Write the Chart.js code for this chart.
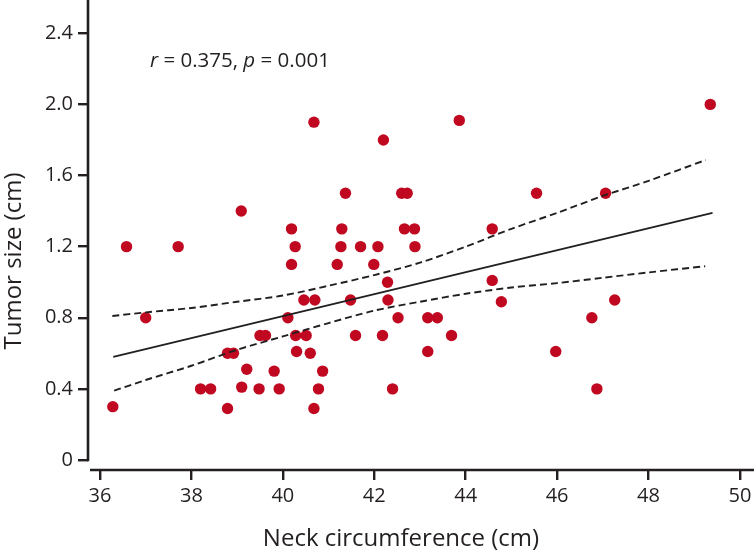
<!DOCTYPE html>
<html>
<head>
<meta charset="utf-8">
<script src="https://cdn.jsdelivr.net/npm/chart.js@4"></script>
<style>
  html, body { margin: 0; padding: 0; background: #fff; }
  #wrap { width: 754px; height: 554px; position: relative; }
</style>
</head>
<body>
<div id="wrap"><canvas id="c" width="754" height="554"></canvas></div>
<script>
// ---- data ----
const neckCm = [36.28, 36.58, 37.00, 37.71, 38.20, 38.42, 38.79, 38.92, 38.79, 39.09,
  39.10, 39.21, 39.48, 39.50, 39.62, 39.81, 39.92, 40.11, 40.19, 40.19,
  40.27, 40.28, 40.30, 40.46, 40.51, 40.60, 40.68, 40.68, 40.70, 40.78,
  40.87, 41.19, 41.27, 41.29, 41.37, 41.48, 41.59, 41.70, 41.99, 42.08,
  42.18, 42.20, 42.29, 42.30, 42.40, 42.52, 42.60, 42.66, 42.72, 42.88,
  42.89, 43.17, 43.17, 43.38, 43.69, 43.86, 44.58, 44.58, 44.78, 45.55,
  45.97, 46.76, 46.87, 47.06, 47.26, 49.35];
const tumorCm = [0.30, 1.20, 0.80, 1.20, 0.40, 0.40, 0.60, 0.60, 0.29, 1.40,
  0.41, 0.51, 0.40, 0.70, 0.70, 0.50, 0.40, 0.80, 1.30, 1.10,
  1.20, 0.70, 0.61, 0.90, 0.70, 0.60, 1.90, 0.29, 0.90, 0.40,
  0.50, 1.10, 1.20, 1.30, 1.50, 0.90, 0.70, 1.20, 1.10, 1.20,
  0.70, 1.80, 1.00, 0.90, 0.40, 0.80, 1.50, 1.30, 1.50, 1.30,
  1.20, 0.80, 0.61, 0.80, 0.70, 1.91, 1.30, 1.01, 0.89, 1.50,
  0.61, 0.80, 0.40, 1.50, 0.90, 2.00];

const fitX = [36.29, 49.40];
const fitY = [0.58, 1.39];
const upperX = [36.27, 37.0, 38.0, 39.0, 40.0, 41.0, 42.0, 43.0, 44.0, 45.0, 46.0, 47.0, 48.0, 49.25];
const upperY = [0.81, 0.83, 0.855, 0.89, 0.925, 0.98, 1.04, 1.11, 1.20, 1.30, 1.39, 1.485, 1.57, 1.687];
const lowerX = [36.31, 37.0, 38.0, 39.0, 40.0, 41.0, 42.0, 43.0, 44.0, 45.0, 46.0, 47.0, 48.0, 49.24];
const lowerY = [0.39, 0.45, 0.53, 0.62, 0.695, 0.77, 0.84, 0.89, 0.935, 0.97, 0.995, 1.025, 1.055, 1.09];

const xTicks = [36, 38, 40, 42, 44, 46, 48, 50];
const yTicks = [0, 0.4, 0.8, 1.2, 1.6, 2.0, 2.4];
const yTickLabels = ['0', '0.4', '0.8', '1.2', '1.6', '2.0', '2.4'];

const xTitle = 'Neck circumference (cm)';
const yTitle = 'Tumor size (cm)';

// ---- styling ----
const INK = '#231f20';
const RED = 'rgb(192,8,32)';
const FONT = '"Open Sans", "Noto Sans", sans-serif';

const pts = (xs, ys) => xs.map((x, i) => ({ x: x, y: ys[i] }));

const axesPlugin = {
  id: 'axesPlugin',
  afterDraw(chart) {
    const ctx = chart.ctx;
    const ys = chart.scales.y;
    const ca = chart.chartArea;
    ctx.save();
    ctx.strokeStyle = INK;
    ctx.lineWidth = 2.6;
    // y axis line (ends just below 0)
    ctx.beginPath();
    ctx.moveTo(ca.left, ca.top);
    ctx.lineTo(ca.left, ys.getPixelForValue(0) + 1.3);
    ctx.stroke();
    // x axis line (detached, at bottom)
    ctx.beginPath();
    ctx.moveTo(ca.left + 2, ca.bottom);
    ctx.lineTo(ca.right, ca.bottom);
    ctx.stroke();

    ctx.fillStyle = INK;
    // x title
    ctx.font = '24px ' + FONT;
    ctx.textAlign = 'center';
    ctx.textBaseline = 'alphabetic';
    ctx.fillText(xTitle, 401, 546);
    // y title
    ctx.save();
    ctx.translate(21, 261);
    ctx.rotate(-Math.PI / 2);
    ctx.fillText(yTitle, 0, 0);
    ctx.restore();

    // annotation
    const parts = [
      ['italic', 'r'], ['normal', ' = 0.375, '], ['italic', 'p'], ['normal', ' = 0.001']
    ];
    let x = 150;
    ctx.textAlign = 'left';
    for (const [st, t] of parts) {
      ctx.font = st + ' 20.5px ' + FONT;
      ctx.fillText(t, x, 67);
      x += ctx.measureText(t).width;
    }
    ctx.restore();
  }
};

new Chart(document.getElementById('c'), {
  type: 'scatter',
  data: {
    datasets: [
      {
        label: 'Fit', type: 'line', data: pts(fitX, fitY),
        borderColor: INK, borderWidth: 1.9, pointRadius: 0, fill: false, order: 1
      },
      {
        label: 'Upper', type: 'line', data: pts(upperX, upperY),
        borderColor: INK, borderWidth: 1.9, borderDash: [7, 4], pointRadius: 0,
        fill: false, tension: 0.3, order: 1
      },
      {
        label: 'Lower', type: 'line', data: pts(lowerX, lowerY),
        borderColor: INK, borderWidth: 1.9, borderDash: [7, 4], pointRadius: 0,
        fill: false, tension: 0.3, order: 1
      },
      {
        label: 'Patients', data: pts(neckCm, tumorCm),
        backgroundColor: RED, borderColor: RED, borderWidth: 0,
        pointRadius: 5.7, order: 2
      }
    ]
  },
  options: {
    responsive: false,
    animation: false,
    events: [],
    layout: { padding: 0, autoPadding: false },
    plugins: { legend: { display: false }, tooltip: { enabled: false } },
    scales: {
      x: {
        type: 'linear',
        min: 35.7375, max: 50.307,
        afterBuildTicks: (s) => { s.ticks = xTicks.map(v => ({ value: v })); },
        afterFit: (s) => { s.height = 84; s.paddingLeft = 0; s.paddingRight = 0; },
        border: { display: false },
        grid: {
          display: true, drawOnChartArea: false, drawTicks: true,
          tickLength: 10, lineWidth: 2.4, color: INK
        },
        ticks: {
          color: INK, padding: 4,
          font: { family: FONT, size: 20 },
          maxRotation: 0, autoSkip: false,
          callback: (v) => String(v)
        }
      },
      y: {
        type: 'linear',
        min: -0.0562, max: 2.587,
        afterBuildTicks: (s) => { s.ticks = yTicks.map(v => ({ value: v })); },
        afterFit: (s) => { s.width = 88; s.paddingTop = 0; s.paddingBottom = 0; },
        border: { display: false },
        grid: {
          display: true, drawOnChartArea: false, drawTicks: true,
          tickLength: 10, lineWidth: 2.4, color: INK
        },
        ticks: {
          color: INK, padding: 5,
          font: { family: FONT, size: 20 },
          autoSkip: false,
          callback: (v) => { const i = yTicks.indexOf(v); return i >= 0 ? yTickLabels[i] : ''; }
        }
      }
    }
  },
  plugins: [axesPlugin]
});
</script>
</body>
</html>
